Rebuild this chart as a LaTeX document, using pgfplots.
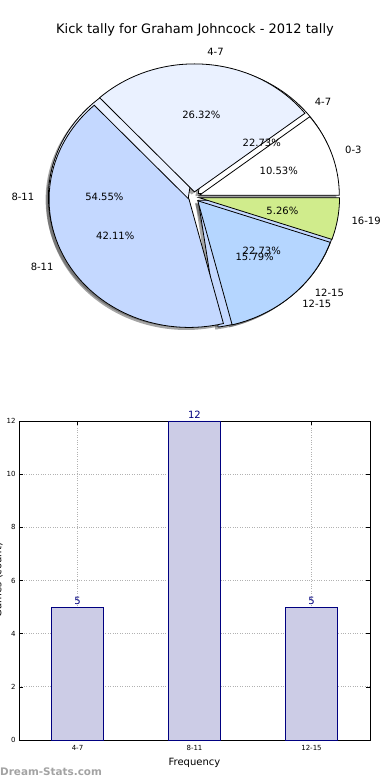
\documentclass[border=0pt]{standalone}
\usepackage{fontspec}
\setmainfont{DejaVu Sans}
\usepackage{pgfplots}
\pgfplotsset{compat=1.18}
\definecolor{c03}{HTML}{FFFFFF}
\definecolor{c47}{HTML}{EAF1FF}
\definecolor{c811}{HTML}{C4D8FF}
\definecolor{c1215}{HTML}{B5D6FF}
\definecolor{c1619}{HTML}{D0EC8C}
\definecolor{barfill}{HTML}{CCCCE6}
\definecolor{navy}{HTML}{000080}
% #1 start angle, #2 end angle, #3 style, #4 dx, #5 dy
\newcommand{\pieslice}[5]{%
  \pgfmathsetmacro\sm{(#1+#2)/2}%
  \pgfmathsetmacro\cx{0.04*cos(\sm)+#4}%
  \pgfmathsetmacro\cy{0.04*sin(\sm)+#5}%
  \edef\doslice{\noexpand\addplot[#3, domain=#1:#2, samples=70, variable=\noexpand\t]
    ({\cx+cos(\noexpand\t)},{\cy+sin(\noexpand\t)}) -- (axis cs:\cx,\cy) -- cycle;}%
  \doslice}
% #1 start, #2 end, #3 text, #4 distance
\newcommand{\pielabel}[4]{%
  \pgfmathsetmacro\sm{(#1+#2)/2}%
  \pgfmathsetmacro\lx{(#4)*cos(\sm)}%
  \pgfmathsetmacro\ly{(#4)*sin(\sm)}%
  \pgfmathsetmacro\side{cos(\sm)<0 ? 1 : 0}%
  \ifdim\side pt>0.5pt
    \edef\dolabel{\noexpand\node[anchor=east, inner sep=0pt, font=\noexpand\fontsize{10}{12}\noexpand\selectfont] at (axis cs:\lx,\ly) {#3};}%
  \else
    \edef\dolabel{\noexpand\node[anchor=west, inner sep=0pt, font=\noexpand\fontsize{10}{12}\noexpand\selectfont] at (axis cs:\lx,\ly) {#3};}%
  \fi
  \dolabel}
\newcommand{\pctlabel}[3]{%
  \pgfmathsetmacro\sm{(#1+#2)/2}%
  \pgfmathsetmacro\lx{0.64*cos(\sm)}%
  \pgfmathsetmacro\ly{0.64*sin(\sm)}%
  \edef\dolabel{\noexpand\node[inner sep=0pt, font=\noexpand\fontsize{10}{12}\noexpand\selectfont] at (axis cs:\lx,\ly) {#3};}%
  \dolabel}
\begin{document}
\begin{tikzpicture}
\node[font=\fontsize{13}{15}\selectfont] at (195pt,750pt) {Kick tally for Graham Johncock - 2012 tally};
% ---------------- pie ----------------
\begin{axis}[at={(194pt,583pt)}, anchor=origin, x=140pt, y=128pt,
  xmin=-1.3, xmax=1.3, ymin=-1.2, ymax=1.2, hide axis, clip=false, no markers]
% shadows
\pieslice{0}{81.818}{draw=none, fill=black!70, opacity=0.5}{-0.02}{-0.02}
\pieslice{81.818}{278.182}{draw=none, fill=black!70, opacity=0.5}{-0.02}{-0.02}
\pieslice{278.182}{360}{draw=none, fill=black!70, opacity=0.5}{-0.02}{-0.02}
\pieslice{0}{37.895}{draw=none, fill=black!70, opacity=0.5}{-0.02}{-0.02}
\pieslice{37.895}{132.632}{draw=none, fill=black!70, opacity=0.5}{-0.02}{-0.02}
\pieslice{132.632}{284.211}{draw=none, fill=black!70, opacity=0.5}{-0.02}{-0.02}
\pieslice{284.211}{341.053}{draw=none, fill=black!70, opacity=0.5}{-0.02}{-0.02}
\pieslice{341.053}{360}{draw=none, fill=black!70, opacity=0.5}{-0.02}{-0.02}
% first pie: 5, 12, 5 of 22
\pieslice{0}{81.818}{draw=black, line width=0.8pt, fill=c03}{0}{0}
\pieslice{81.818}{278.182}{draw=black, line width=0.8pt, fill=c47}{0}{0}
\pieslice{278.182}{360}{draw=black, line width=0.8pt, fill=c811}{0}{0}
% second pie: 2, 5, 8, 3, 1 of 19
\pieslice{0}{37.895}{draw=black, line width=0.8pt, fill=c03}{0}{0}
\pieslice{37.895}{132.632}{draw=black, line width=0.8pt, fill=c47}{0}{0}
\pieslice{132.632}{284.211}{draw=black, line width=0.8pt, fill=c811}{0}{0}
\pieslice{284.211}{341.053}{draw=black, line width=0.8pt, fill=c1215}{0}{0}
\pieslice{341.053}{360}{draw=black, line width=0.8pt, fill=c1619}{0}{0}
% labels
\pielabel{0}{81.818}{4-7}{1.14}
\pielabel{81.818}{278.182}{8-11}{1.14}
\pielabel{278.182}{360}{12-15}{1.14}
\pctlabel{0}{81.818}{22.73\%}
\pctlabel{81.818}{278.182}{54.55\%}
\pctlabel{278.182}{360}{22.73\%}
\pielabel{0}{37.895}{0-3}{1.14}
\pielabel{37.895}{132.632}{4-7}{1.14}
\pielabel{132.632}{284.211}{8-11}{1.14}
\pielabel{284.211}{341.053}{12-15}{1.14}
\pielabel{341.053}{360}{16-19}{1.14}
\pctlabel{0}{37.895}{10.53\%}
\pctlabel{37.895}{132.632}{26.32\%}
\pctlabel{132.632}{284.211}{42.11\%}
\pctlabel{284.211}{341.053}{15.79\%}
\pctlabel{341.053}{360}{5.26\%}
\end{axis}
% ---------------- bars ----------------
\begin{axis}[at={(19pt,40pt)}, anchor=south west, width=351pt, height=319pt,
  scale only axis, xmin=-0.5, xmax=2.5, ymin=0, ymax=12,
  xtick={0,1,2}, xticklabels={4-7,8-11,12-15}, ytick={0,2,...,12},
  /pgf/number format/assume math mode=true,
  grid=major, grid style={dotted, black!30, line width=0.8pt},
  tick align=inside, tick style={black, line width=0.5pt}, major tick length=4pt,
  ticklabel style={font=\fontsize{7}{8}\selectfont},
  xticklabel style={yshift=-1.5pt},
  xlabel={Frequency}, xlabel style={font=\fontsize{10}{12}\selectfont, yshift=-1pt},
  axis line style={line width=0.8pt}, clip=false]
\addplot[ybar, bar width=0.444, fill=barfill, draw=navy, line width=0.7pt,
  nodes near coords, nodes near coords style={font=\fontsize{10}{12}\selectfont, text=navy, anchor=south, inner sep=2.5pt}]
  coordinates {(0,5) (1,12) (2,5)};
\end{axis}
\node[rotate=90, anchor=base, font=\fontsize{10}{12}\selectfont] at (1.5pt,200pt) {Games (count)};
\node[anchor=base west, inner sep=0pt, text=black!36, font=\fontsize{10.4}{12}\bfseries] at (0pt,5pt) {Dream-Stats.com};
\pgfresetboundingbox
\path[use as bounding box] (0pt,0pt) rectangle (390pt,780pt);
\end{tikzpicture}
\end{document}
